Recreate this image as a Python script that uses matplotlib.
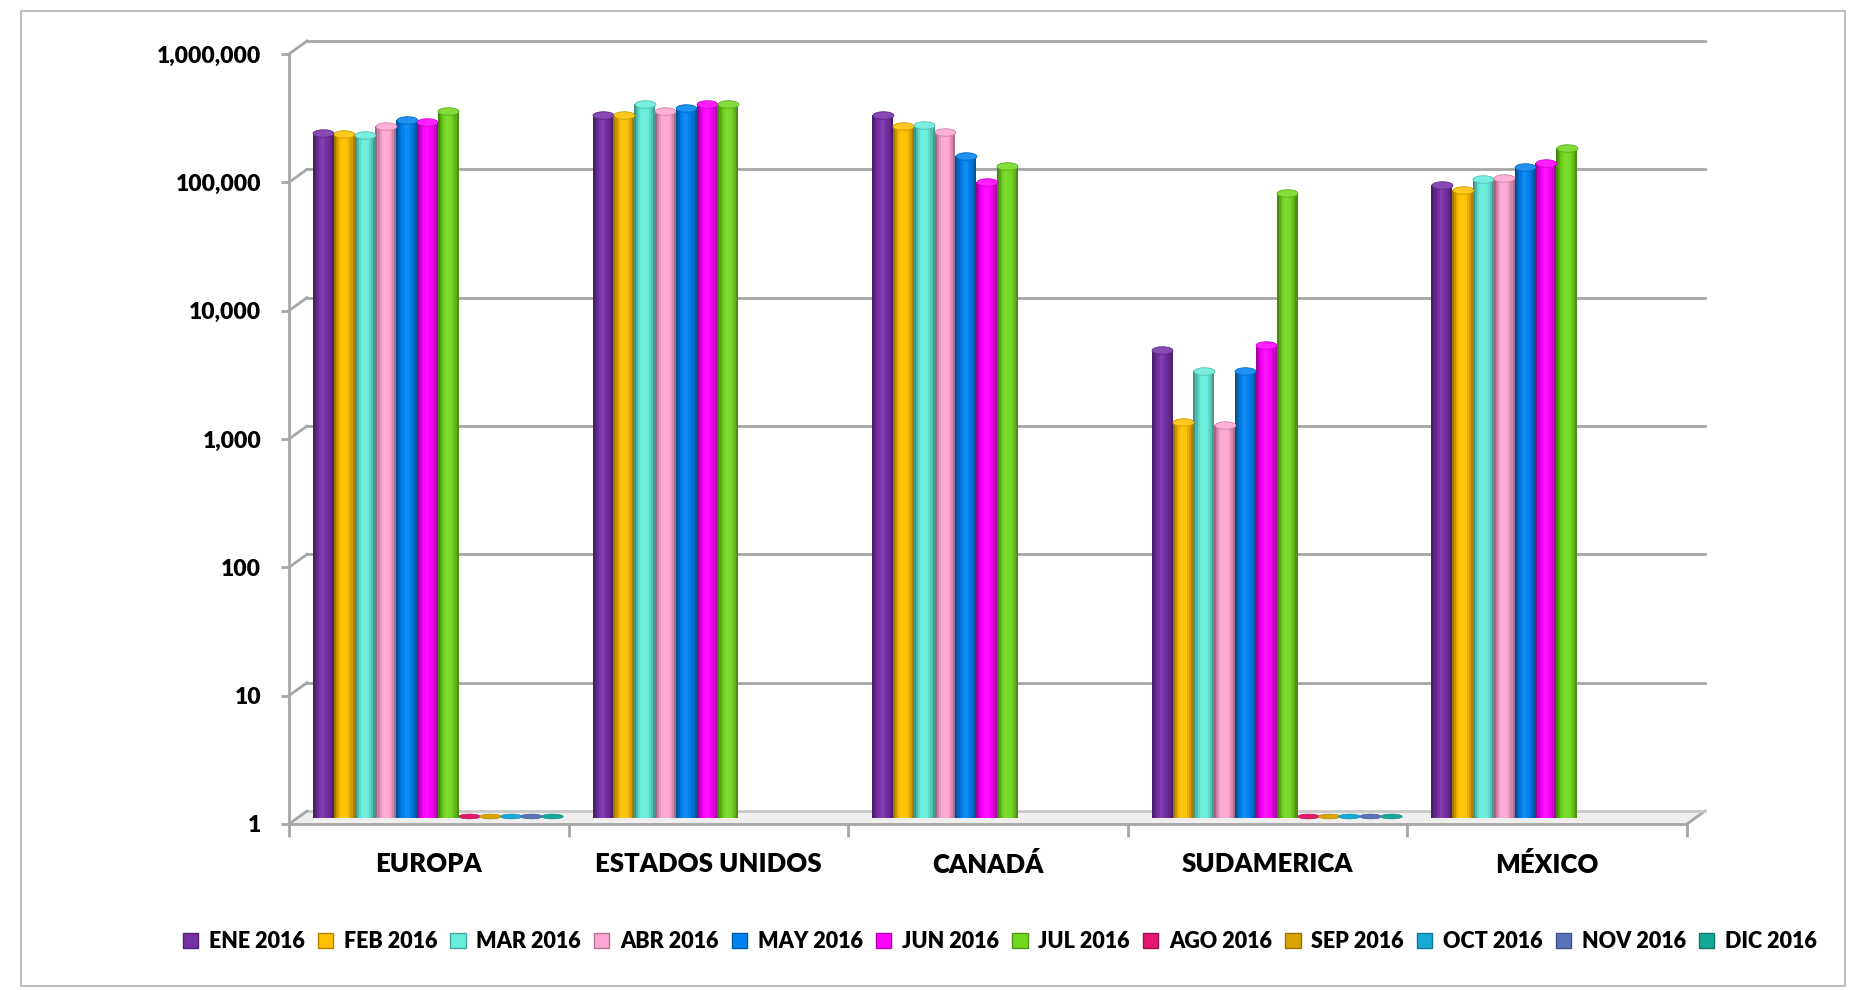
import numpy as np
import matplotlib
matplotlib.use("Agg")
import matplotlib.pyplot as plt
from matplotlib.path import Path
from matplotlib.patches import Patch, Polygon, Rectangle
from matplotlib.transforms import ScaledTranslation
from matplotlib.ticker import FuncFormatter, NullLocator
import matplotlib.colors as mcolors

plt.rcParams['font.family'] = ['Lato', 'DejaVu Sans']

regions = ["EUROPA", "ESTADOS UNIDOS", "CANADÁ", "SUDAMERICA", "MÉXICO"]
months = ["ENE 2016", "FEB 2016", "MAR 2016", "ABR 2016", "MAY 2016", "JUN 2016",
          "JUL 2016", "AGO 2016", "SEP 2016", "OCT 2016", "NOV 2016", "DIC 2016"]
colors = ["#7530A6", "#FFC000", "#66EDDC", "#FFA6D2", "#0082F0", "#FF00FF",
          "#72D81F", "#E2186C", "#D9A400", "#19A9D8", "#5A72B8", "#16A896"]

# monthly values per region (None = empty cell, 0 = zero shown as a flat disk)
ene = [216000, 300000, 300000, 4400, 85000]
feb = [212000, 296000, 245000, 1200, 78000]
mar = [207000, 360000, 250000, 3000, 95000]
abr = [243000, 320000, 220000, 1150, 96000]
may = [274000, 340000, 142000, 3000, 118000]
jun = [261000, 365000, 89500, 4800, 125000]
jul = [318000, 360000, 119000, 73000, 165000]
ago = [0, None, None, 0, None]
sep = [0, None, None, 0, None]
octu = [0, None, None, 0, None]
nov = [0, None, None, 0, None]
dic = [0, None, None, 0, None]
series = [ene, feb, mar, abr, may, jun, jul, ago, sep, octu, nov, dic]

yticks = [1, 10, 100, 1000, 10000, 100000, 1000000]


def shade(c, f):
    r = np.array(mcolors.to_rgb(c))
    if f >= 1:
        r = r + (1 - r) * (f - 1)
    else:
        r = r * f
    return tuple(np.clip(r, 0, 1))


fig = plt.figure(figsize=(18.69, 9.90), dpi=100)
ax = fig.add_axes([289 / 1869, 1 - 824 / 990, 1398 / 1869, 770 / 990])
ax.set_yscale('log')
ax.set_ylim(1, 1e6)
ax.set_xlim(-0.5, 4.5)

# depth of the 3d box in axes fraction
dxf = 18 / 1398
dyf = 13 / 770
grid_c = "#A6A6A6"

# floor
ax.add_patch(Polygon([(0, 0), (1, 0), (1 + dxf, dyf), (dxf, dyf)], closed=True,
                     transform=ax.transAxes, facecolor="#EFEFEF", edgecolor="none",
                     clip_on=False, zorder=0))
ax.plot([1, 1 + dxf], [0, dyf], transform=ax.transAxes, color=grid_c, lw=2,
        clip_on=False, zorder=1)
# back wall gridlines and side diagonals
for k in range(7):
    yf = k / 6
    ax.plot([dxf, 1 + dxf], [yf + dyf, yf + dyf], transform=ax.transAxes,
            color=grid_c if k else "#C8C8C8", lw=2, clip_on=False, zorder=1)
    ax.plot([0, dxf], [yf, yf + dyf], transform=ax.transAxes, color=grid_c,
            lw=2, clip_on=False, zorder=1)

# cylinders
w = 0.0744
nstrip = 10
prof = [0.62, 0.78, 0.92, 1.02, 1.08, 1.06, 1.0, 0.92, 0.82, 0.66]
bar_tr = ax.transData + ScaledTranslation(0.09, 0.065, fig.dpi_scale_trans)
theta = np.linspace(0, 2 * np.pi, 60)
ell = Path(np.column_stack([np.cos(theta), 0.36 * np.sin(theta)]), closed=True)
flat = Path(np.column_stack([np.cos(theta), 0.22 * np.sin(theta)]), closed=True)

for j, (vals, c) in enumerate(zip(series, colors)):
    for i, v in enumerate(vals):
        if v is None:
            continue
        xc = i + (j - 5.5) * w
        if v <= 1:
            ax.plot([xc], [1.02], marker=flat, ms=15.5, mfc=shade(c, 1.0),
                    mec=shade(c, 0.85), mew=0.5, transform=bar_tr, zorder=3,
                    clip_on=False)
            continue
        x0 = xc - w / 2
        for k in range(nstrip):
            ax.bar(x0 + k * w / nstrip, v - 1, bottom=1, width=w / nstrip * 1.05,
                   align='edge', color=shade(c, prof[k]), linewidth=0,
                   transform=bar_tr, zorder=3 + j * 0.01)
        ax.plot([xc], [v], marker=ell, ms=15, mfc=shade(c, 1.12),
                mec=shade(c, 0.8), mew=0.6, transform=bar_tr,
                zorder=3.2 + j * 0.01, clip_on=False)

# axes styling
for s in ['top', 'right']:
    ax.spines[s].set_visible(False)
ax.spines['left'].set_color(grid_c)
ax.spines['left'].set_linewidth(2)
ax.spines['bottom'].set_color(grid_c)
ax.spines['bottom'].set_linewidth(2)
ax.set_yticks(yticks)
ax.yaxis.set_minor_locator(NullLocator())
ax.yaxis.set_major_formatter(FuncFormatter(lambda v, p: f"{int(round(v)):,}"))
ax.tick_params(axis='y', length=6, width=2, color=grid_c, pad=14,
               labelsize=16.5)
for lab in ax.get_yticklabels():
    lab.set_fontweight('heavy')

ax.set_xticks(np.arange(-0.5, 5, 1.0))
ax.set_xticklabels([])
ax.tick_params(axis='x', which='major', length=9, width=2, color=grid_c)
ax.set_xticks(np.arange(5), minor=True)
ax.set_xticklabels(regions, minor=True, fontsize=18.5, fontweight='heavy')
ax.tick_params(axis='x', which='minor', length=0, pad=20)

handles = [Patch(facecolor=c, edgecolor=shade(c, 0.7), lw=1) for c in colors]
fig.legend(handles, months, loc='center', bbox_to_anchor=(0.535, 0.0485),
           ncol=12, frameon=False, handlelength=0.7, handleheight=0.7,
           handletextpad=0.5, columnspacing=0.62,
           prop={'weight': 'heavy', 'size': 15.5})

fig.add_artist(Rectangle((21 / 1869, 1 - 986 / 990), 1824 / 1869, 975 / 990,
                         transform=fig.transFigure, fill=False,
                         edgecolor="#BFBFBF", lw=1.5))

fig.savefig("out.png", dpi=100)
